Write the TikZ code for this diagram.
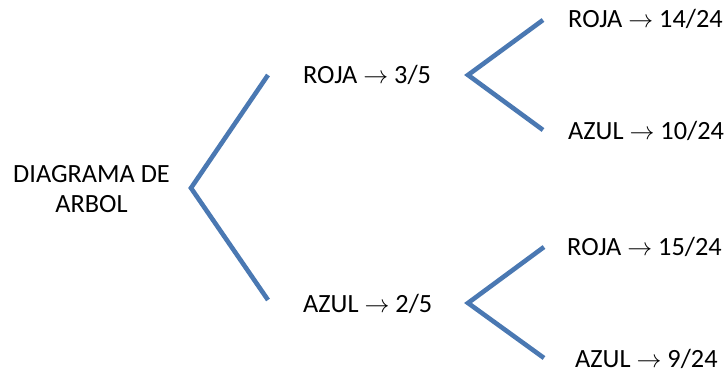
\documentclass[tikz,border=0pt]{standalone}
\usepackage{fontspec}
\setmainfont{Carlito}
\begin{document}
\begin{tikzpicture}[x=1pt,y=-1pt,
  lbl/.style={inner sep=0pt,font=\fontsize{26.3}{30}\selectfont},
  branch/.style={draw={rgb,255:red,74;green,120;blue,178},line width=4.6pt}]
\useasboundingbox (0,0) rectangle (728,373);
% labels
\node[lbl,align=center] (root) at (91.5,189) {DIAGRAMA DE\\ARBOL};
\node[lbl,anchor=base west] (r) at (303,83) {ROJA $\rightarrow$ 3/5};
\node[lbl,anchor=base west] (a) at (303,312) {AZUL $\rightarrow$ 2/5};
\node[lbl,anchor=base west] (rr) at (568,27) {ROJA $\rightarrow$ 14/24};
\node[lbl,anchor=base west] (ra) at (568,139) {AZUL $\rightarrow$ 10/24};
\node[lbl,anchor=base west] (ar) at (567,255) {ROJA $\rightarrow$ 15/24};
\node[lbl,anchor=base west] (aa) at (575,367) {AZUL $\rightarrow$ 9/24};
% branch points and ends
\coordinate (v0) at (191,188);
\coordinate (v0u) at (268,75);
\coordinate (v0d) at (268,300);
\coordinate (v1) at (468,75);
\coordinate (v1u) at (543,20);
\coordinate (v1d) at (543,130);
\coordinate (v2) at (468,303);
\coordinate (v2u) at (544,247);
\coordinate (v2d) at (544,358);
% branches
\draw[branch] (v0u) -- (v0) -- (v0d);
\draw[branch] (v1u) -- (v1) -- (v1d);
\draw[branch] (v2u) -- (v2) -- (v2d);
\end{tikzpicture}
\end{document}
